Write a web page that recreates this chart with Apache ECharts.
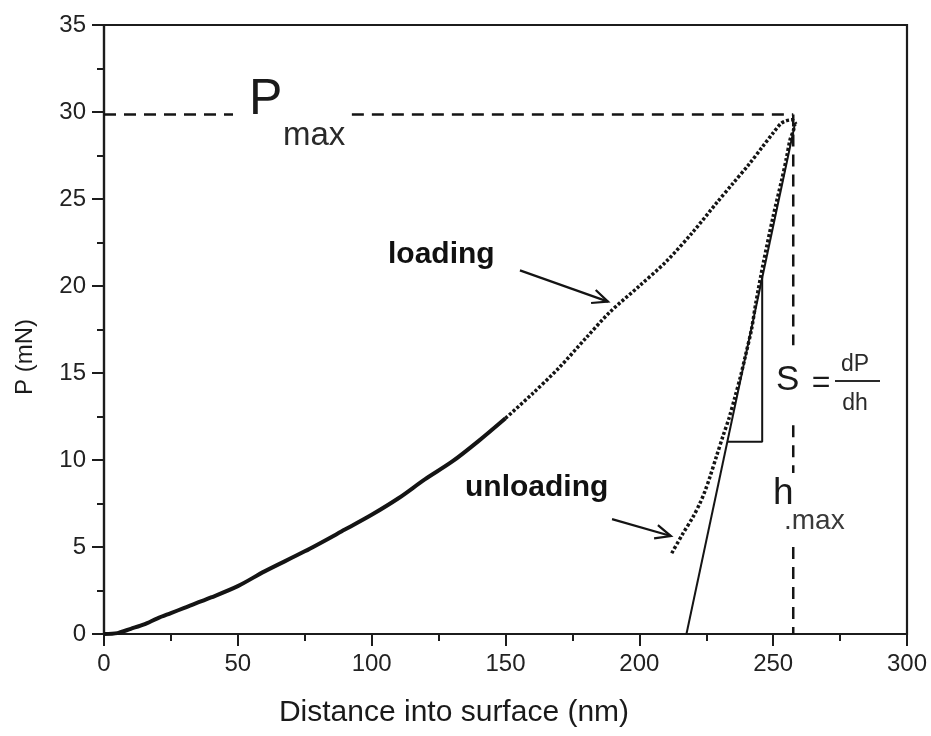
<!DOCTYPE html>
<html>
<head>
<meta charset="utf-8">
<script src="https://cdn.jsdelivr.net/npm/echarts@6/dist/echarts.min.js"></script>
<style>
  html, body { margin: 0; padding: 0; background: #fff; }
  #chart { width: 931px; height: 736px; }
</style>
</head>
<body>
<div id="chart"></div>
<script>
// Indentation load–displacement curve (P–h)
const loadingDepth = [0, 5, 10, 15, 20, 25, 30, 40, 50, 60, 75, 90, 100, 110, 120, 130, 140, 150,
                      160, 170, 180, 189, 200, 210, 220, 229, 235, 241, 246, 250, 253, 255, 257, 258.5];
const loadingForce = [0, 0.05, 0.3, 0.55, 0.9, 1.2, 1.5, 2.1, 2.75, 3.6, 4.75, 6.0, 6.85, 7.8, 8.9, 9.9, 11.1, 12.4,
                      13.8, 15.3, 17.0, 18.5, 20.0, 21.4, 23.1, 24.8, 25.9, 27.0, 28.0, 28.8, 29.35, 29.5, 29.55, 29.3];

const unloadDepth = [212.1, 216, 220.1, 222.6, 224.5, 226.4, 228.8, 231.3, 233.5, 235.7, 237.8, 239.5,
                     241.9, 243.5, 246.3, 250, 253.2, 254.9, 256.3, 257.5, 258.1];
const unloadForce = [4.64, 5.7, 6.74, 7.5, 8.2, 9.04, 10.2, 11.4, 12.4, 13.6, 14.8, 15.9,
                     17.5, 19.0, 21.3, 24.0, 26.1, 27.3, 28.4, 28.9, 29.3];

// contact stiffness tangent and its slope triangle
const tangentDepth = [217.6, 258.1];
const tangentForce = [0, 29.3];
const triangleDepth = [232.9, 245.9, 245.9];
const triangleForce = [11.05, 11.05, 20.5];

// guide lines for P_max and h_max (broken where labels sit)
const pMax = 29.85;
const hMax = 257.5;
const guideSegments = [
  [[0, pMax], [48.2, pMax]],
  [[92.6, pMax], [hMax, pMax]],
  [[hMax, pMax], [hMax, 16.6]],
  [[hMax, 12.0], [hMax, 9.25]],
  [[hMax, 5.0], [hMax, 0]]
];

// pointer arrows: [from, to]
const arrows = [
  [[155.4, 20.9], [188.3, 19.1]],
  [[189.8, 6.6], [211.8, 5.63]]
];

const xTicks = { min: 0, max: 300, step: 50 };
const yTicks = { min: 0, max: 35, step: 5 };

const zip = (a, b) => a.map((v, i) => [v, b[i]]);
const loadingPts = zip(loadingDepth, loadingForce);
const splitAt = loadingDepth.indexOf(150);
const loadingLower = loadingPts.slice(0, splitAt + 1);
const loadingUpper = loadingPts.slice(splitAt);

const FONT = '"Liberation Sans", Arial, sans-serif';
const INK = '#141414';

const chart = echarts.init(document.getElementById('chart'), null, { renderer: 'canvas' });

function axisCommon(t) {
  return {
    type: 'value',
    min: t.min, max: t.max, interval: t.step,
    axisLine: { show: true, lineStyle: { color: '#1c1c1c', width: 2.2 } },
    axisTick: { show: true, length: 12, lineStyle: { color: '#1c1c1c', width: 2 } },
    minorTick: { show: true, splitNumber: 2, length: 7, lineStyle: { color: '#1c1c1c', width: 2 } },
    splitLine: { show: false },
    minorSplitLine: { show: false },
    axisLabel: { fontSize: 24, color: '#222', fontFamily: FONT }
  };
}

const xAxis = axisCommon(xTicks);
xAxis.axisLabel.margin = 18;
const yAxis = axisCommon(yTicks);
yAxis.axisLabel.margin = 18;

chart.setOption({
  animation: false,
  backgroundColor: '#fff',
  grid: { left: 104, right: 24, top: 25, bottom: 102, show: true, borderColor: '#1c1c1c', borderWidth: 2.2, backgroundColor: 'transparent' },
  xAxis: xAxis,
  yAxis: yAxis,
  series: [
    {
      name: 'loading', type: 'line', data: loadingLower, showSymbol: false, smooth: 0.3,
      lineStyle: { color: INK, width: 4 }, silent: true
    },
    {
      name: 'loading-upper', type: 'line', data: loadingUpper, showSymbol: false, smooth: 0.3,
      lineStyle: { color: INK, width: 3.5, type: [3, 2] }, silent: true
    },
    {
      name: 'unloading', type: 'line', data: zip(unloadDepth, unloadForce), showSymbol: false, smooth: 0.3,
      lineStyle: { color: INK, width: 3.5, type: [3, 2.2] }, silent: true
    },
    {
      name: 'tangent', type: 'line', data: zip(tangentDepth, tangentForce), showSymbol: false,
      lineStyle: { color: INK, width: 2 }, silent: true
    },
    {
      name: 'slope', type: 'line', data: zip(triangleDepth, triangleForce), showSymbol: false,
      lineStyle: { color: INK, width: 2 }, silent: true
    },
    {
      name: 'guides', type: 'custom', silent: true, clip: false,
      data: guideSegments.map((s, i) => [i, 0]),
      renderItem: function (params, api) {
        const seg = guideSegments[api.value(0)];
        return {
          type: 'polyline',
          shape: { points: seg.map(p => api.coord(p)) },
          style: { stroke: INK, lineWidth: 2.5, lineDash: [12, 8], fill: null }
        };
      }
    },
    {
      name: 'arrows', type: 'custom', silent: true, clip: false,
      data: arrows.map((s, i) => [i, 0]),
      renderItem: function (params, api) {
        const a = arrows[api.value(0)];
        const p0 = api.coord(a[0]);
        const p1 = api.coord(a[1]);
        const ang = Math.atan2(p1[1] - p0[1], p1[0] - p0[0]);
        const len = 17, spread = 0.42;
        const l = [p1[0] - len * Math.cos(ang - spread), p1[1] - len * Math.sin(ang - spread)];
        const r = [p1[0] - len * Math.cos(ang + spread), p1[1] - len * Math.sin(ang + spread)];
        const st = { stroke: INK, lineWidth: 2.2, fill: null };
        return {
          type: 'group',
          children: [
            { type: 'polyline', shape: { points: [p0, p1] }, style: st },
            { type: 'polyline', shape: { points: [l, p1, r] }, style: st }
          ]
        };
      }
    }
  ],
  graphic: [
    // axis titles
    { type: 'text', style: { text: 'Distance into surface (nm)', x: 454, y: 713, font: '30px ' + FONT, fill: '#1a1a1a', textAlign: 'center', textVerticalAlign: 'middle' } },
    { type: 'text', x: 25, y: 357, rotation: Math.PI / 2, style: { text: 'P (mN)', x: 0, y: 0, font: '24px ' + FONT, fill: '#1a1a1a', textAlign: 'center', textVerticalAlign: 'middle' } },
    // P_max
    { type: 'text', style: { text: 'P', x: 249, y: 100, font: '50px ' + FONT, fill: '#1a1a1a', textAlign: 'left', textVerticalAlign: 'middle' } },
    { type: 'text', style: { text: 'max', x: 283, y: 136, font: '33px ' + FONT, fill: '#2a2a2a', textAlign: 'left', textVerticalAlign: 'middle' } },
    // S = dP/dh
    { type: 'text', style: { text: 'S', x: 776, y: 380, font: '35px ' + FONT, fill: '#1a1a1a', textAlign: 'left', textVerticalAlign: 'middle' } },
    { type: 'text', style: { text: '=', x: 821, y: 383, font: '32px ' + FONT, fill: '#1a1a1a', textAlign: 'center', textVerticalAlign: 'middle' } },
    { type: 'text', style: { text: 'dP', x: 855, y: 365, font: '23px ' + FONT, fill: '#2a2a2a', textAlign: 'center', textVerticalAlign: 'middle' } },
    { type: 'line', shape: { x1: 835, y1: 381, x2: 880, y2: 381 }, style: { stroke: '#2a2a2a', lineWidth: 2 } },
    { type: 'text', style: { text: 'dh', x: 855, y: 404, font: '23px ' + FONT, fill: '#2a2a2a', textAlign: 'center', textVerticalAlign: 'middle' } },
    // h_max
    { type: 'text', style: { text: 'h', x: 773, y: 494, font: '37px ' + FONT, fill: '#1a1a1a', textAlign: 'left', textVerticalAlign: 'middle' } },
    { type: 'text', style: { text: '.max', x: 784, y: 521, font: '28px ' + FONT, fill: '#3a3a3a', textAlign: 'left', textVerticalAlign: 'middle' } },
    // curve labels
    { type: 'text', style: { text: 'loading', x: 388, y: 255, font: 'bold 30px ' + FONT, fill: '#111', textAlign: 'left', textVerticalAlign: 'middle' } },
    { type: 'text', style: { text: 'unloading', x: 465, y: 488, font: 'bold 30px ' + FONT, fill: '#111', textAlign: 'left', textVerticalAlign: 'middle' } }
  ]
});
</script>
</body>
</html>
